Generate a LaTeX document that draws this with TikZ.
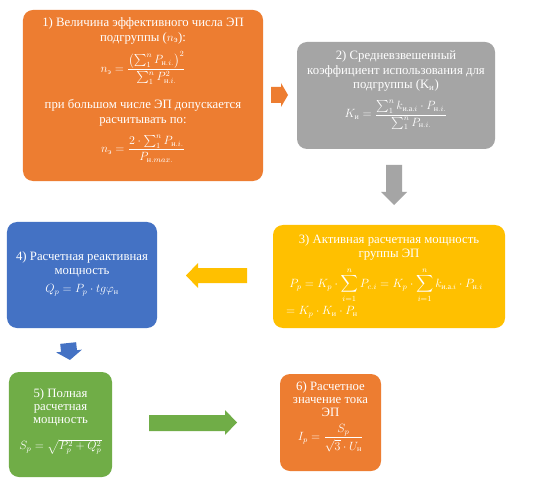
\documentclass[tikz,border=0pt]{standalone}
\usepackage{amsmath}
\usepackage{fontspec}
\setmainfont{Liberation Serif}
\definecolor{cOrange}{HTML}{ED7D31}
\definecolor{cGray}{HTML}{A5A5A5}
\definecolor{cYellow}{HTML}{FFC000}
\definecolor{cBlue}{HTML}{4472C4}
\definecolor{cGreen}{HTML}{70AD47}
\newcommand{\tn}[1]{\text{#1}}
\begin{document}
\begin{tikzpicture}[x=1bp,y=-1bp,
  box/.style={rounded corners=10bp, inner sep=0pt, draw=none},
  txt/.style={text=white, align=center, inner sep=0pt, font=\fontsize{12.8}{15}\selectfont},
  txtb/.style={text=white, align=center, inner sep=0pt, font=\fontsize{12.8}{13.3}\selectfont},
  fml/.style={text=white, inner sep=0pt, font=\fontsize{12}{15}\selectfont}]
\useasboundingbox[fill=white] (0,0) rectangle (534,481);
% boxes
\node[box, fill=cOrange, minimum width=240bp, minimum height=171bp] (b1) at (143,95.5) {};
\node[box, fill=cGray, minimum width=198bp, minimum height=107bp] (b2) at (396,95.5) {};
\node[box, fill=cYellow, minimum width=232bp, minimum height=103bp] (b3) at (389,276.5) {};
\node[box, fill=cBlue, minimum width=150bp, minimum height=106bp] (b4) at (82,275) {};
\node[box, fill=cGreen, minimum width=103bp, minimum height=105bp] (b5) at (60.5,424.5) {};
\node[box, fill=cOrange, minimum width=101bp, minimum height=97bp] (b6) at (330.5,422.5) {};
% box 1 text
\node[txt] (t1a) at (143,30.5) {1) Величина эффективного числа ЭП\\подгруппы ($n_{\tn{э}}$):};
\node[fml] (f1a) at (143,68) {$\displaystyle n_{\tn{э}}=\frac{\bigl(\sum_1^n P_{\tn{н}.i.}\bigr)^2}{\sum_1^n P^2_{\tn{н}.i.}}$};
\node[txt] (t1b) at (143,112.5) {при большом числе ЭП допускается\\расчитывать по:};
\node[fml] (f1b) at (143,149) {$\displaystyle n_{\tn{э}}=\frac{2\cdot\sum_1^n P_{\tn{н}.i.}}{P_{\tn{н}.max.}}$};
% box 2 text
\node[txt] (t2) at (396,71) {2) Средневзвешенный\\коэффициент использования для\\подгруппы (K\textsubscript{и})};
\node[fml] (f2) at (396,115) {$\displaystyle K_{\tn{и}}=\frac{\sum_1^n k_{\tn{и.а.}i}\cdot P_{\tn{н}.i.}}{\sum_1^n P_{\tn{н}.i.}}$};
% box 3 text
\node[txtb] (t3) at (389,247.5) {3) Активная расчетная мощность\\группы ЭП};
\node[fml] (f3a) at (386,285) {$\displaystyle P_p=K_p\cdot\sum_{i=1}^{n}P_{c.i}=K_p\cdot\sum_{i=1}^{n}k_{\tn{и.а.}i}\cdot P_{\tn{н}.i}$};
\node[fml, anchor=west] (f3b) at (286,312) {$=K_p\cdot K_{\tn{и}}\cdot P_{\tn{н}}$};
% box 4 text
\node[txtb] (t4) at (82,264.5) {4) Расчетная реактивная\\мощность};
\node[fml] (f4) at (82,290) {$Q_p=P_p\cdot tg\varphi_{\tn{н}}$};
% box 5 text
\node[txtb] (t5) at (60.5,407.5) {5) Полная\\расчетная\\мощность};
\node[fml] (f5) at (60.5,447) {$S_p=\sqrt{P_p^2+Q_p^2}$};
% box 6 text
\node[txtb] (t6) at (330.5,399) {6) Расчетное\\значение тока\\ЭП};
\node[fml] (f6) at (330.5,438) {$\displaystyle I_p=\frac{S_p}{\sqrt{3}\cdot U_{\tn{н}}}$};
% block arrows
\fill[cOrange] (271,87) -- (281,87) -- (281,83) -- (288,95) -- (281,107) -- (281,103) -- (271,103) -- cycle;
\fill[cGray] (386,165) -- (402,165) -- (402,192) -- (407,192) -- (394,205) -- (381,192) -- (386,192) -- cycle;
\fill[cYellow] (247,268) -- (198,268) -- (198,263) -- (186,275.5) -- (198,288) -- (198,283) -- (247,283) -- cycle;
\fill[cBlue, rotate around={6:(69,351)}] (61,343) -- (77,343) -- (77,351) -- (82,351) -- (69,360) -- (56,351) -- (61,351) -- cycle;
\fill[cGreen] (149,415) -- (225,415) -- (225,410) -- (237,422.5) -- (225,435) -- (225,431) -- (149,431) -- cycle;
\end{tikzpicture}
\end{document}
